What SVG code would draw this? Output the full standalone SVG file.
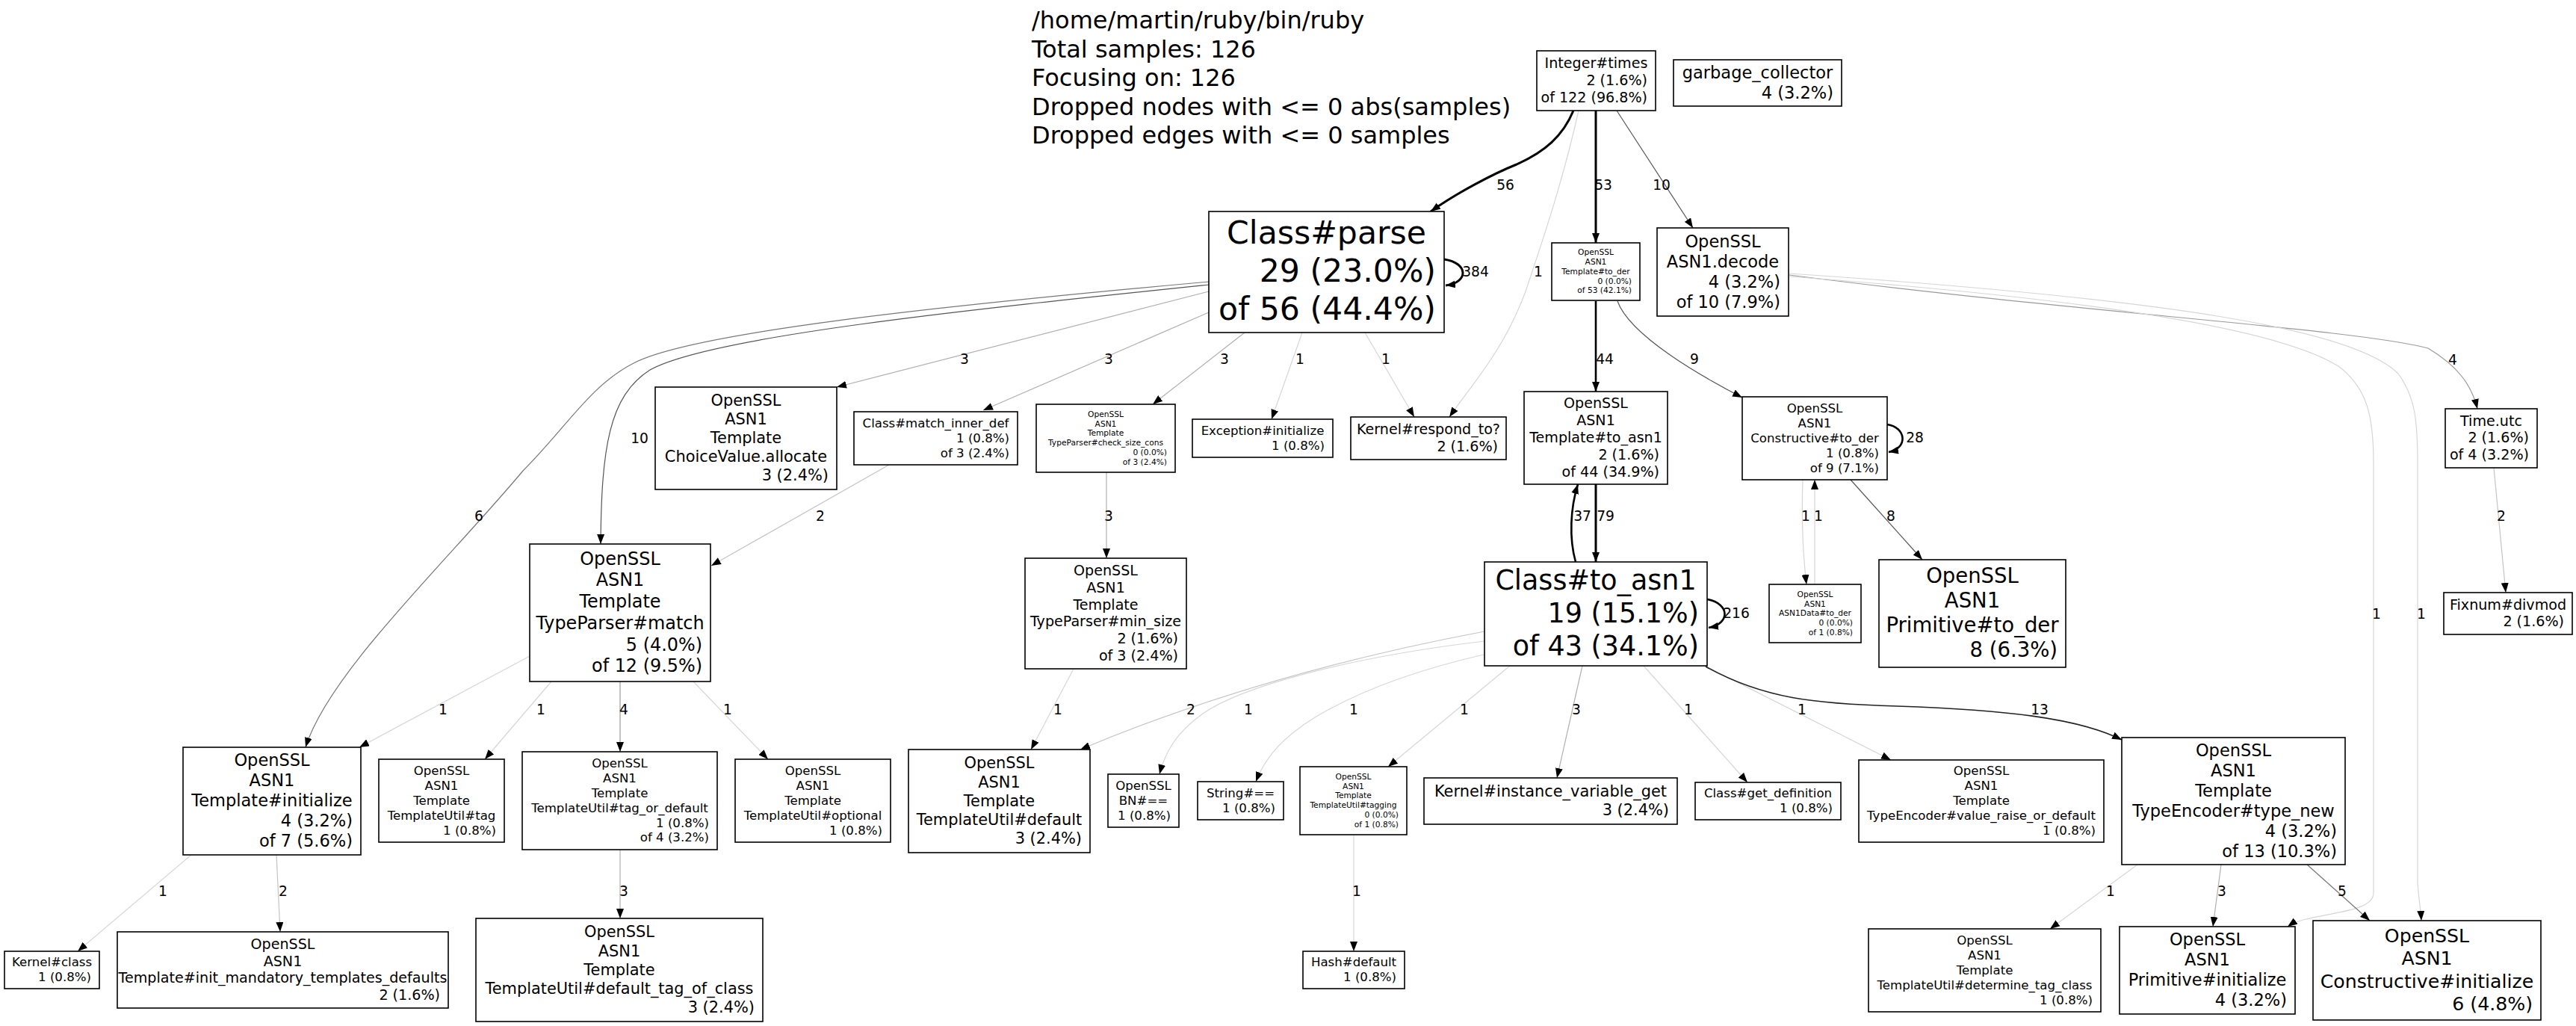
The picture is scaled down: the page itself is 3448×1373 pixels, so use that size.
<svg xmlns="http://www.w3.org/2000/svg" width="3448" height="1373" viewBox="0 0 3448 1373">
<style>
text{font-family:"DejaVu Sans","Liberation Sans",sans-serif;fill:#000}
.c{text-anchor:middle}.r{text-anchor:end}
.f0{font-size:10.67px}.f1{font-size:16.6px}.f2{font-size:19.1px}.f3{font-size:20.9px}.f4{font-size:22.5px}.f5{font-size:23.9px}.f6{font-size:25.2px}.f8{font-size:27.5px}.f19{font-size:36.5px}.f29{font-size:42.6px}
.t{font-size:32px}
.l{font-size:18.67px;text-anchor:middle}
rect{fill:#fff;stroke:#000;stroke-width:1.6}
path{fill:none;marker-end:url(#ah)}
.w1{stroke:#d6d6d6;stroke-width:1.2}
.w2{stroke:#c4c4c4;stroke-width:1.2}
.w3{stroke:#b0b0b0;stroke-width:1.2}
.w4{stroke:#999;stroke-width:1.2}
.w6{stroke:#777;stroke-width:1.2}
.w9{stroke:#555;stroke-width:1.2}
.w13{stroke:#222;stroke-width:1.6}
.wb{stroke:#000;stroke-width:2.6}
.wk{stroke:#000;stroke-width:3}
</style>
<defs>
<marker id="ah" markerUnits="userSpaceOnUse" markerWidth="14" markerHeight="10" refX="13" refY="5" orient="auto" viewBox="0 0 14 10"><path d="M0,0 L13,5 L0,10 z" style="fill:#000;stroke:none;marker-end:none"/></marker>
</defs>
<rect x="0" y="0" width="3448" height="1373" style="fill:#fff;stroke:none"/>
<g id="legend">
<text class="t" x="1381" y="38">/home/martin/ruby/bin/ruby</text>
<text class="t" x="1381" y="76.5">Total samples: 126</text>
<text class="t" x="1381" y="115">Focusing on: 126</text>
<text class="t" x="1381" y="153.5">Dropped nodes with &lt;= 0 abs(samples)</text>
<text class="t" x="1381" y="192">Dropped edges with &lt;= 0 samples</text>
</g>
<g id="connectors">
<path class="wk" d="M2106,148 C2092,182 2068,203 2030,220 C2000,232 1950,258 1915,283"/>
<text class="l" x="2015" y="254">56</text>
<path class="wk" d="M2136,148 L2136,325"/>
<text class="l" x="2146" y="254">53</text>
<path class="w9" d="M2164,148 L2266,305"/>
<text class="l" x="2224" y="254">10</text>
<path class="w1" d="M2113,148 C2090,250 2062,330 2042,390 C2012,470 1972,512 1940,558"/>
<text class="l" x="2059" y="370">1</text>
<path class="wk" d="M1933,347 C1966,352 1966,378 1935,382"/>
<text class="l" x="1975" y="370">384</text>
<path class="wb" d="M2136,403 L2136,524"/>
<text class="l" x="2148" y="487">44</text>
<path class="w9" d="M2165,403 C2182,450 2280,505 2332,532"/>
<text class="l" x="2268" y="487">9</text>
<path class="w1" d="M1743,445 L1702,561"/>
<text class="l" x="1740" y="487">1</text>
<path class="w1" d="M1827,445 L1893,558"/>
<text class="l" x="1855" y="487">1</text>
<path class="w3" d="M1666,445 L1543,541"/>
<text class="l" x="1639" y="487">3</text>
<path class="w3" d="M1618,418 L1316,549"/>
<text class="l" x="1484" y="487">3</text>
<path class="w3" d="M1618,390 L1120,518"/>
<text class="l" x="1291" y="487">3</text>
<path class="w9" d="M1618,381 C1300,414 950,450 870,495 C815,530 805,600 804,728"/>
<text class="l" x="856" y="593">10</text>
<path class="w6" d="M1618,377 C1250,410 930,445 850,485 C790,515 760,570 700,630 C600,750 440,900 409,1000"/>
<text class="l" x="641" y="697">6</text>
<path class="w3" d="M1481,632 L1481,747"/>
<text class="l" x="1484" y="697">3</text>
<path class="w2" d="M1190,622 L952,757"/>
<text class="l" x="1098" y="697">2</text>
<path class="wk" d="M2136,648 L2136,752"/>
<path class="wb" d="M2109,752 C2100,720 2102,680 2112,648"/>
<text class="l" x="2118" y="697">37</text>
<text class="l" x="2149" y="697">79</text>
<path class="wb" d="M2285,802 C2316,808 2316,835 2287,840"/>
<text class="l" x="2324" y="827">216</text>
<path class="wb" d="M2526,568 C2552,572 2554,600 2528,605"/>
<text class="l" x="2563" y="592">28</text>
<path class="w1" d="M2413,642 C2411,700 2413,740 2418,782"/>
<path class="w1" d="M2429,782 L2429,642"/>
<text class="l" x="2417" y="697">1</text>
<text class="l" x="2434" y="697">1</text>
<path class="w9" d="M2477,642 L2573,749"/>
<text class="l" x="2531" y="697">8</text>
<path class="w4" d="M2395,368 C2800,420 3150,440 3250,466 C3290,490 3308,515 3316,547"/>
<text class="l" x="3283" y="488">4</text>
<path class="w1" d="M2395,370 C2800,400 3050,440 3130,490 C3170,520 3177,560 3177,620 L3177,1195 C3177,1225 3090,1220 3062,1240"/>
<path class="w1" d="M2395,366 C2900,400 3150,440 3210,500 C3232,530 3236,560 3236,620 L3236,1180 C3237,1200 3240,1215 3241,1232"/>
<text class="l" x="3181" y="828">1</text>
<text class="l" x="3241" y="828">1</text>
<path class="w2" d="M3338,626 L3354,793"/>
<text class="l" x="3348" y="697">2</text>
<path class="w1" d="M709,878 L481,1000"/>
<text class="l" x="593" y="956">1</text>
<path class="w1" d="M738,912 L649,1016"/>
<text class="l" x="724" y="956">1</text>
<path class="w4" d="M830,912 L830,1006"/>
<text class="l" x="835" y="956">4</text>
<path class="w1" d="M928,912 L1028,1016"/>
<text class="l" x="974" y="956">1</text>
<path class="w1" d="M1437,895 L1380,1003"/>
<text class="l" x="1416" y="956">1</text>
<path class="w2" d="M1987,845 C1800,880 1620,930 1446,1003"/>
<text class="l" x="1594" y="956">2</text>
<path class="w1" d="M1987,858 C1800,880 1660,920 1610,955 C1575,980 1560,1005 1552,1036"/>
<text class="l" x="1671" y="956">1</text>
<path class="w1" d="M1990,875 C1880,900 1810,930 1760,960 C1720,985 1695,1010 1681,1046"/>
<text class="l" x="1812" y="956">1</text>
<path class="w1" d="M2021,891 L1858,1026"/>
<text class="l" x="1960" y="956">1</text>
<path class="w3" d="M2118,891 L2084,1041"/>
<text class="l" x="2110" y="956">3</text>
<path class="w1" d="M2200,891 L2339,1047"/>
<text class="l" x="2260" y="956">1</text>
<path class="w1" d="M2282,891 L2531,1017"/>
<text class="l" x="2412" y="956">1</text>
<path class="w13" d="M2283,892 C2360,935 2430,942 2540,945 C2680,950 2780,960 2840,990"/>
<text class="l" x="2730" y="956">13</text>
<path class="w1" d="M1812,1117 L1812,1273"/>
<text class="l" x="1816" y="1199">1</text>
<path class="w3" d="M830,1137 L830,1229"/>
<text class="l" x="835" y="1199">3</text>
<path class="w1" d="M256,1144 L104,1273"/>
<text class="l" x="218" y="1199">1</text>
<path class="w2" d="M370,1144 L375,1247"/>
<text class="l" x="379" y="1199">2</text>
<path class="w1" d="M2861,1157 L2744,1243"/>
<text class="l" x="2825" y="1199">1</text>
<path class="w3" d="M2973,1157 L2962,1240"/>
<text class="l" x="2974" y="1199">3</text>
<path class="w6" d="M3088,1157 L3172,1232"/>
<text class="l" x="3135" y="1199">5</text>
</g>
<g id="n_integer_times"><rect x="2057" y="68" width="159" height="80"/>
<text class="f2 c" x="2136.5" y="91">Integer#times</text><text class="f2 r" x="2205" y="113.9">2 (1.6%)</text><text class="f2 r" x="2205" y="136.8">of 122 (96.8%)</text></g>
<g id="n_garbage_collector"><rect x="2240" y="80" width="225" height="62"/>
<text class="f4 c" x="2352.5" y="104.5">garbage_collector</text><text class="f4 r" x="2454" y="131.5">4 (3.2%)</text></g>
<g id="n_class_parse"><rect x="1618" y="283" width="315" height="162"/>
<text class="f29 c" x="1775.5" y="326">Class#parse</text><text class="f29 r" x="1922" y="377">29 (23.0%)</text><text class="f29 r" x="1922" y="428">of 56 (44.4%)</text></g>
<g id="n_template_to_der"><rect x="2077" y="325" width="118" height="77"/>
<text class="f0 c" x="2136" y="341.2">OpenSSL</text><text class="f0 c" x="2136" y="354">ASN1</text><text class="f0 c" x="2136" y="366.8">Template#to_der</text><text class="f0 r" x="2184" y="379.6">0 (0.0%)</text><text class="f0 r" x="2184" y="392.4">of 53 (42.1%)</text></g>
<g id="n_asn1_decode"><rect x="2218" y="305" width="176" height="118"/>
<text class="f4 c" x="2306" y="330.5">OpenSSL</text><text class="f4 c" x="2306" y="357.5">ASN1.decode</text><text class="f4 r" x="2383" y="384.5">4 (3.2%)</text><text class="f4 r" x="2383" y="411.5">of 10 (7.9%)</text></g>
<g id="n_choicevalue_allocate"><rect x="877" y="518" width="243" height="137"/>
<text class="f3 c" x="998.5" y="542.9">OpenSSL</text><text class="f3 c" x="998.5" y="568">ASN1</text><text class="f3 c" x="998.5" y="593.1">Template</text><text class="f3 c" x="998.5" y="618.2">ChoiceValue.allocate</text><text class="f3 r" x="1109" y="643.3">3 (2.4%)</text></g>
<g id="n_match_inner_def"><rect x="1143" y="551" width="219" height="71"/>
<text class="f1 c" x="1252.5" y="571.8">Class#match_inner_def</text><text class="f1 r" x="1351" y="591.7">1 (0.8%)</text><text class="f1 r" x="1351" y="611.6">of 3 (2.4%)</text></g>
<g id="n_check_size_cons"><rect x="1387" y="541" width="186" height="91"/>
<text class="f0 c" x="1480" y="557.8">OpenSSL</text><text class="f0 c" x="1480" y="570.6">ASN1</text><text class="f0 c" x="1480" y="583.4">Template</text><text class="f0 c" x="1480" y="596.2">TypeParser#check_size_cons</text><text class="f0 r" x="1562" y="609">0 (0.0%)</text><text class="f0 r" x="1562" y="621.8">of 3 (2.4%)</text></g>
<g id="n_exception_initialize"><rect x="1596" y="561" width="188" height="51"/>
<text class="f1 c" x="1690" y="581.7">Exception#initialize</text><text class="f1 r" x="1773" y="601.6">1 (0.8%)</text></g>
<g id="n_respond_to"><rect x="1808" y="558" width="208" height="57"/>
<text class="f2 c" x="1912" y="581">Kernel#respond_to?</text><text class="f2 r" x="2005" y="603.9">2 (1.6%)</text></g>
<g id="n_template_to_asn1"><rect x="2040" y="524" width="192" height="124"/>
<text class="f2 c" x="2136" y="546.2">OpenSSL</text><text class="f2 c" x="2136" y="569.1">ASN1</text><text class="f2 c" x="2136" y="592">Template#to_asn1</text><text class="f2 r" x="2221" y="614.9">2 (1.6%)</text><text class="f2 r" x="2221" y="637.8">of 44 (34.9%)</text></g>
<g id="n_constructive_to_der"><rect x="2332" y="531" width="194" height="111"/>
<text class="f1 c" x="2429" y="551.9">OpenSSL</text><text class="f1 c" x="2429" y="571.8">ASN1</text><text class="f1 c" x="2429" y="591.7">Constructive#to_der</text><text class="f1 r" x="2515" y="611.6">1 (0.8%)</text><text class="f1 r" x="2515" y="631.5">of 9 (7.1%)</text></g>
<g id="n_time_utc"><rect x="3273" y="547" width="123" height="79"/>
<text class="f2 c" x="3334.5" y="569.5">Time.utc</text><text class="f2 r" x="3385" y="592.4">2 (1.6%)</text><text class="f2 r" x="3385" y="615.3">of 4 (3.2%)</text></g>
<g id="n_typeparser_match"><rect x="709" y="728" width="242" height="184"/>
<text class="f5 c" x="830" y="755.7">OpenSSL</text><text class="f5 c" x="830" y="784.4">ASN1</text><text class="f5 c" x="830" y="813.1">Template</text><text class="f5 c" x="830" y="841.8">TypeParser#match</text><text class="f5 r" x="940" y="870.5">5 (4.0%)</text><text class="f5 r" x="940" y="899.2">of 12 (9.5%)</text></g>
<g id="n_min_size"><rect x="1372" y="747" width="216" height="148"/>
<text class="f2 c" x="1480" y="769.7">OpenSSL</text><text class="f2 c" x="1480" y="792.6">ASN1</text><text class="f2 c" x="1480" y="815.5">Template</text><text class="f2 c" x="1480" y="838.4">TypeParser#min_size</text><text class="f2 r" x="1577" y="861.3">2 (1.6%)</text><text class="f2 r" x="1577" y="884.2">of 3 (2.4%)</text></g>
<g id="n_class_to_asn1"><rect x="1987" y="752" width="298" height="139"/>
<text class="f19 c" x="2136" y="789.1">Class#to_asn1</text><text class="f19 r" x="2274" y="832.9">19 (15.1%)</text><text class="f19 r" x="2274" y="876.7">of 43 (34.1%)</text></g>
<g id="n_asn1data_to_der"><rect x="2368" y="782" width="123" height="78"/>
<text class="f0 c" x="2429.5" y="798.7">OpenSSL</text><text class="f0 c" x="2429.5" y="811.5">ASN1</text><text class="f0 c" x="2429.5" y="824.3">ASN1Data#to_der</text><text class="f0 r" x="2480" y="837.1">0 (0.0%)</text><text class="f0 r" x="2480" y="849.9">of 1 (0.8%)</text></g>
<g id="n_primitive_to_der"><rect x="2515" y="749" width="250" height="144"/>
<text class="f8 c" x="2640" y="780.1">OpenSSL</text><text class="f8 c" x="2640" y="813.1">ASN1</text><text class="f8 c" x="2640" y="846.1">Primitive#to_der</text><text class="f8 r" x="2754" y="879.1">8 (6.3%)</text></g>
<g id="n_fixnum_divmod"><rect x="3271" y="793" width="172" height="56"/>
<text class="f2 c" x="3357" y="815.5">Fixnum#divmod</text><text class="f2 r" x="3432" y="838.4">2 (1.6%)</text></g>
<g id="n_template_initialize"><rect x="245" y="1000" width="238" height="144"/>
<text class="f4 c" x="364" y="1025">OpenSSL</text><text class="f4 c" x="364" y="1052">ASN1</text><text class="f4 c" x="364" y="1079">Template#initialize</text><text class="f4 r" x="472" y="1106">4 (3.2%)</text><text class="f4 r" x="472" y="1133">of 7 (5.6%)</text></g>
<g id="n_tu_tag"><rect x="507" y="1016" width="168" height="111"/>
<text class="f1 c" x="591" y="1036.9">OpenSSL</text><text class="f1 c" x="591" y="1056.8">ASN1</text><text class="f1 c" x="591" y="1076.7">Template</text><text class="f1 c" x="591" y="1096.6">TemplateUtil#tag</text><text class="f1 r" x="664" y="1116.5">1 (0.8%)</text></g>
<g id="n_tu_tag_or_default"><rect x="699" y="1006" width="261" height="131"/>
<text class="f1 c" x="829.5" y="1026.9">OpenSSL</text><text class="f1 c" x="829.5" y="1046.8">ASN1</text><text class="f1 c" x="829.5" y="1066.7">Template</text><text class="f1 c" x="829.5" y="1086.6">TemplateUtil#tag_or_default</text><text class="f1 r" x="949" y="1106.5">1 (0.8%)</text><text class="f1 r" x="949" y="1126.4">of 4 (3.2%)</text></g>
<g id="n_tu_optional"><rect x="984" y="1016" width="208" height="111"/>
<text class="f1 c" x="1088" y="1036.9">OpenSSL</text><text class="f1 c" x="1088" y="1056.8">ASN1</text><text class="f1 c" x="1088" y="1076.7">Template</text><text class="f1 c" x="1088" y="1096.6">TemplateUtil#optional</text><text class="f1 r" x="1181" y="1116.5">1 (0.8%)</text></g>
<g id="n_tu_default"><rect x="1216" y="1003" width="243" height="138"/>
<text class="f3 c" x="1337.5" y="1028.4">OpenSSL</text><text class="f3 c" x="1337.5" y="1053.5">ASN1</text><text class="f3 c" x="1337.5" y="1078.6">Template</text><text class="f3 c" x="1337.5" y="1103.7">TemplateUtil#default</text><text class="f3 r" x="1448" y="1128.8">3 (2.4%)</text></g>
<g id="n_bn_eq"><rect x="1483" y="1036" width="95" height="71"/>
<text class="f1 c" x="1530.5" y="1056.8">OpenSSL</text><text class="f1 c" x="1530.5" y="1076.7">BN#==</text><text class="f1 r" x="1567" y="1096.6">1 (0.8%)</text></g>
<g id="n_string_eq"><rect x="1603" y="1046" width="115" height="51"/>
<text class="f1 c" x="1660.5" y="1066.8">String#==</text><text class="f1 r" x="1707" y="1086.7">1 (0.8%)</text></g>
<g id="n_tu_tagging"><rect x="1740" y="1026" width="143" height="91"/>
<text class="f0 c" x="1811.5" y="1042.8">OpenSSL</text><text class="f0 c" x="1811.5" y="1055.6">ASN1</text><text class="f0 c" x="1811.5" y="1068.4">Template</text><text class="f0 c" x="1811.5" y="1081.2">TemplateUtil#tagging</text><text class="f0 r" x="1872" y="1094">0 (0.0%)</text><text class="f0 r" x="1872" y="1106.8">of 1 (0.8%)</text></g>
<g id="n_ivar_get"><rect x="1906" y="1041" width="339" height="62"/>
<text class="f3 c" x="2075.5" y="1066">Kernel#instance_variable_get</text><text class="f3 r" x="2234" y="1091.1">3 (2.4%)</text></g>
<g id="n_get_definition"><rect x="2269" y="1047" width="195" height="50"/>
<text class="f1 c" x="2366.5" y="1067.3">Class#get_definition</text><text class="f1 r" x="2453" y="1087.2">1 (0.8%)</text></g>
<g id="n_value_raise"><rect x="2488" y="1017" width="328" height="110"/>
<text class="f1 c" x="2652" y="1037.4">OpenSSL</text><text class="f1 c" x="2652" y="1057.3">ASN1</text><text class="f1 c" x="2652" y="1077.2">Template</text><text class="f1 c" x="2652" y="1097.1">TypeEncoder#value_raise_or_default</text><text class="f1 r" x="2805" y="1117">1 (0.8%)</text></g>
<g id="n_type_new"><rect x="2840" y="987" width="299" height="170"/>
<text class="f4 c" x="2989.5" y="1011.5">OpenSSL</text><text class="f4 c" x="2989.5" y="1038.5">ASN1</text><text class="f4 c" x="2989.5" y="1065.5">Template</text><text class="f4 c" x="2989.5" y="1092.5">TypeEncoder#type_new</text><text class="f4 r" x="3128" y="1119.5">4 (3.2%)</text><text class="f4 r" x="3128" y="1146.5">of 13 (10.3%)</text></g>
<g id="n_kernel_class"><rect x="6" y="1273" width="127" height="50"/>
<text class="f1 c" x="69.5" y="1293.3">Kernel#class</text><text class="f1 r" x="122" y="1313.2">1 (0.8%)</text></g>
<g id="n_init_mandatory"><rect x="157" y="1247" width="443" height="102"/>
<text class="f2 c" x="378.5" y="1269.6">OpenSSL</text><text class="f2 c" x="378.5" y="1292.5">ASN1</text><text class="f2 c" x="378.5" y="1315.4">Template#init_mandatory_templates_defaults</text><text class="f2 r" x="589" y="1338.3">2 (1.6%)</text></g>
<g id="n_default_tag_of_class"><rect x="637" y="1229" width="384" height="138"/>
<text class="f3 c" x="829" y="1254.4">OpenSSL</text><text class="f3 c" x="829" y="1279.5">ASN1</text><text class="f3 c" x="829" y="1304.6">Template</text><text class="f3 c" x="829" y="1329.7">TemplateUtil#default_tag_of_class</text><text class="f3 r" x="1010" y="1354.8">3 (2.4%)</text></g>
<g id="n_hash_default"><rect x="1744" y="1273" width="136" height="50"/>
<text class="f1 c" x="1812" y="1293.3">Hash#default</text><text class="f1 r" x="1869" y="1313.2">1 (0.8%)</text></g>
<g id="n_determine_tag_class"><rect x="2501" y="1243" width="311" height="111"/>
<text class="f1 c" x="2656.5" y="1263.9">OpenSSL</text><text class="f1 c" x="2656.5" y="1283.8">ASN1</text><text class="f1 c" x="2656.5" y="1303.7">Template</text><text class="f1 c" x="2656.5" y="1323.6">TemplateUtil#determine_tag_class</text><text class="f1 r" x="2801" y="1343.5">1 (0.8%)</text></g>
<g id="n_primitive_initialize"><rect x="2837" y="1240" width="235" height="117"/>
<text class="f4 c" x="2954.5" y="1265">OpenSSL</text><text class="f4 c" x="2954.5" y="1292">ASN1</text><text class="f4 c" x="2954.5" y="1319">Primitive#initialize</text><text class="f4 r" x="3061" y="1346">4 (3.2%)</text></g>
<g id="n_constructive_initialize"><rect x="3096" y="1232" width="305" height="133"/>
<text class="f6 c" x="3248.5" y="1261.1">OpenSSL</text><text class="f6 c" x="3248.5" y="1291.3">ASN1</text><text class="f6 c" x="3248.5" y="1321.5">Constructive#initialize</text><text class="f6 r" x="3390" y="1351.7">6 (4.8%)</text></g>
</svg>
